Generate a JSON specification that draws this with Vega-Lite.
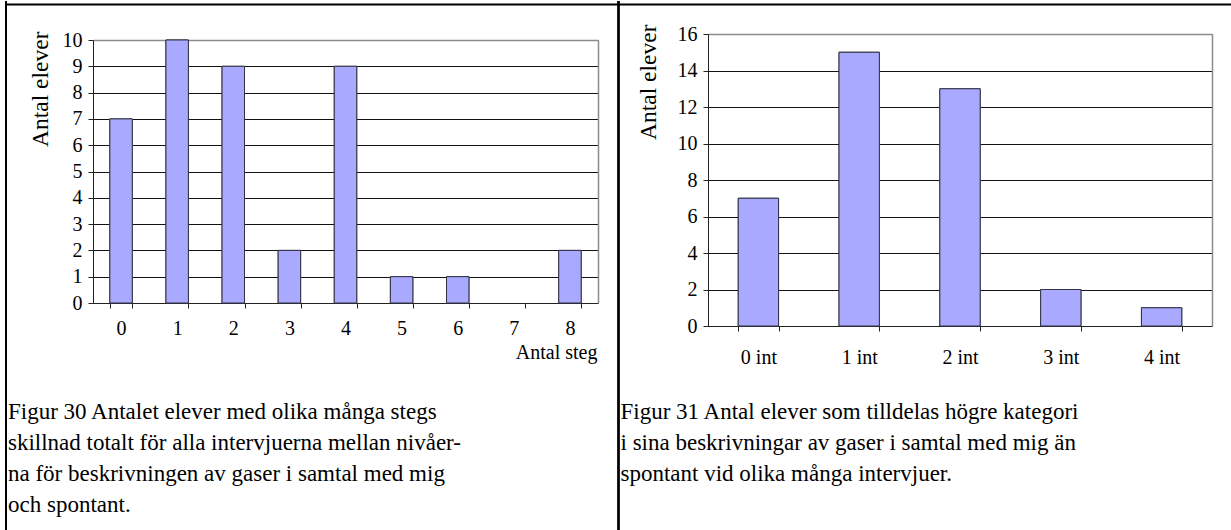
{
  "$schema": "https://vega.github.io/schema/vega-lite/v6.json",
  "width": 1231,
  "height": 530,
  "padding": 0,
  "autosize": {"type": "pad"},
  "background": "white",
  "config": {
    "view": {"stroke": null},
    "font": "Liberation Serif",
    "axis": {"labelFont": "Liberation Serif", "titleFont": "Liberation Serif", "labelColor": "#000", "titleColor": "#000", "titleFontWeight": "normal"}
  },
  "layer": [
    {
      "data": {"values": [
        {"steg": "0", "elever": 7},
        {"steg": "1", "elever": 10},
        {"steg": "2", "elever": 9},
        {"steg": "3", "elever": 2},
        {"steg": "4", "elever": 9},
        {"steg": "5", "elever": 1},
        {"steg": "6", "elever": 1},
        {"steg": "7", "elever": 0},
        {"steg": "8", "elever": 2}
      ]},
      "transform": [{"filter": "datum.elever > 0"}],
      "layer": [
        {
          "mark": {"type": "bar", "fill": "#a9a9ff", "stroke": "#333344", "strokeWidth": 1},
          "encoding": {
            "x": {
              "field": "steg", "type": "ordinal", "sort": null,
              "scale": {"type": "band", "domain": ["0", "1", "2", "3", "4", "5", "6", "7", "8"], "range": [93, 598], "paddingInner": 0.6, "paddingOuter": 0.3},
              "axis": {
                "orient": "bottom", "offset": -228, "tickBand": "extent", "tickSize": 5,
                "domainColor": "#222", "tickColor": "#222", "labelAngle": 0,
                "labelFontSize": 20, "labelPadding": 10,
                "title": "Antal steg", "titleFontSize": 20, "titleAlign": "right",
                "titleBaseline": "alphabetic", "titleAnchor": null, "titleX": 597, "titleY": 55
              }
            },
            "y": {
              "field": "elever", "type": "quantitative",
              "scale": {"domain": [0, 10], "range": [302, 39], "nice": false},
              "axis": {
                "orient": "left", "offset": -93, "values": [0, 1, 2, 3, 4, 5, 6, 7, 8, 9, 10],
                "grid": true, "gridColor": "#111", "gridWidth": 1,
                "domainColor": "#222", "tickColor": "#222", "tickSize": 5,
                "labelFontSize": 20, "labelPadding": 6,
                "title": "Antal elever", "titleFontSize": 23.5, "titleAngle": 270,
                "titleAlign": "right", "titleBaseline": "alphabetic", "titleX": -46, "titleY": 30
              }
            }
          }
        },
        {
          "mark": {"type": "bar", "fill": "#a9a9ff", "stroke": "#333344", "strokeWidth": 1},
          "encoding": {
            "x": {
              "field": "steg", "type": "ordinal", "sort": null,
              "axis": {"orient": "top", "offset": -39, "domainColor": "#8c8c8c", "domainWidth": 1.5, "labels": false, "ticks": false, "grid": false, "title": null}
            },
            "y": {
              "field": "elever", "type": "quantitative",
              "axis": {"orient": "left", "offset": -598, "domainColor": "#8c8c8c", "domainWidth": 1.5, "labels": false, "ticks": false, "grid": false, "title": null}
            }
          }
        }
      ],
      "resolve": {"axis": {"x": "independent", "y": "independent"}}
    },
    {
      "data": {"values": [
        {"intervjuer": "0 int", "elever": 7},
        {"intervjuer": "1 int", "elever": 15},
        {"intervjuer": "2 int", "elever": 13},
        {"intervjuer": "3 int", "elever": 2},
        {"intervjuer": "4 int", "elever": 1}
      ]},
      "layer": [
        {
          "mark": {"type": "bar", "fill": "#a9a9ff", "stroke": "#333344", "strokeWidth": 1},
          "encoding": {
            "x": {
              "field": "intervjuer", "type": "ordinal", "sort": null,
              "scale": {"type": "band", "range": [708, 1212], "paddingInner": 0.6, "paddingOuter": 0.3},
              "axis": {
                "orient": "bottom", "offset": -205, "tickBand": "extent", "tickSize": 5,
                "domainColor": "#222", "tickColor": "#222", "labelAngle": 0,
                "labelFontSize": 20, "labelPadding": 16, "title": null
              }
            },
            "y": {
              "field": "elever", "type": "quantitative",
              "scale": {"domain": [0, 16], "range": [325, 33], "nice": false},
              "axis": {
                "orient": "left", "offset": -708, "values": [0, 2, 4, 6, 8, 10, 12, 14, 16],
                "grid": true, "gridColor": "#111", "gridWidth": 1,
                "domainColor": "#222", "tickColor": "#222", "tickSize": 5,
                "labelFontSize": 20, "labelPadding": 6,
                "title": "Antal elever", "titleFontSize": 23.5, "titleAngle": 270,
                "titleAlign": "right", "titleBaseline": "alphabetic", "titleX": -53, "titleY": 23
              }
            }
          }
        },
        {
          "mark": {"type": "bar", "fill": "#a9a9ff", "stroke": "#333344", "strokeWidth": 1},
          "encoding": {
            "x": {
              "field": "intervjuer", "type": "ordinal", "sort": null,
              "axis": {"orient": "top", "offset": -33, "domainColor": "#8c8c8c", "domainWidth": 1.5, "labels": false, "ticks": false, "grid": false, "title": null}
            },
            "y": {
              "field": "elever", "type": "quantitative",
              "axis": {"orient": "left", "offset": -1212, "domainColor": "#8c8c8c", "domainWidth": 1.5, "labels": false, "ticks": false, "grid": false, "title": null}
            }
          }
        }
      ],
      "resolve": {"axis": {"x": "independent", "y": "independent"}}
    },
    {
      "data": {"values": [
        {"figur": 30, "rad": 1, "text": "Figur 30 Antalet elever med olika många stegs"},
        {"figur": 30, "rad": 2, "text": "skillnad totalt för alla intervjuerna mellan nivåer-"},
        {"figur": 30, "rad": 3, "text": "na för beskrivningen av gaser i samtal med mig"},
        {"figur": 30, "rad": 4, "text": "och spontant."},
        {"figur": 31, "rad": 1, "text": "Figur 31 Antal elever som tilldelas högre kategori"},
        {"figur": 31, "rad": 2, "text": "i sina beskrivningar av gaser i samtal med mig än"},
        {"figur": 31, "rad": 3, "text": "spontant vid olika många intervjuer."}
      ]},
      "layer": [
        {
          "mark": {"type": "text", "align": "left", "baseline": "alphabetic", "fontSize": 23, "dx": 2, "font": "Liberation Serif", "color": "#000"},
          "encoding": {
            "x": {
              "field": "figur", "type": "nominal", "bandPosition": 0,
              "scale": {"type": "band", "range": [6, 1231], "paddingInner": 0, "paddingOuter": 0},
              "axis": {"orient": "top", "offset": -3, "domain": true, "domainColor": "#000", "domainWidth": 2, "labels": false, "ticks": false, "grid": false, "title": null}
            },
            "y": {
              "field": "rad", "type": "ordinal",
              "scale": {"type": "point", "range": [418, 511], "padding": 0},
              "axis": null
            },
            "text": {"field": "text"}
          }
        },
        {
          "mark": {"type": "rule", "color": "#000", "strokeWidth": 2},
          "encoding": {
            "x": {"field": "figur", "type": "nominal", "bandPosition": 0}
          }
        }
      ]
    }
  ],
  "resolve": {
    "scale": {"x": "independent", "y": "independent"},
    "axis": {"x": "independent", "y": "independent"}
  }
}
